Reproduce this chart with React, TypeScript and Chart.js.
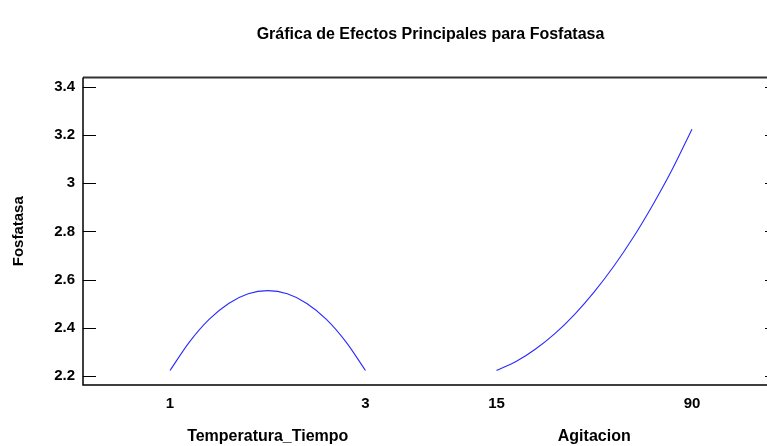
import React, { useEffect, useRef } from 'react';
import { Chart, registerables } from 'chart.js';

Chart.register(...registerables);

// ---- Data ----
const titleText = 'Gráfica de Efectos Principales para Fosfatasa';
const yAxisTitle = 'Fosfatasa';
const factorNames = ['Temperatura_Tiempo', 'Agitacion'];
const levelLabels = ['1', '3', '15', '90'];
const yTickValues = [2.2, 2.4, 2.6, 2.8, 3.0, 3.2, 3.4];

// position along each factor's span (0 = low level, 1 = high level)
const steps = [0, 0.1, 0.2, 0.3, 0.4, 0.5, 0.6, 0.7, 0.8, 0.9, 1.0];
const temperaturaValues = [2.224, 2.343, 2.436, 2.502, 2.542, 2.555, 2.542, 2.502, 2.436, 2.343, 2.224];
const agitacionValues = [2.224, 2.261, 2.313, 2.378, 2.457, 2.550, 2.656, 2.776, 2.911, 3.059, 3.224];

// ---- Layout constants ----
const FACTOR_STARTS = [0, 1.67];
const X_MIN = -0.445;
const X_MAX = 3.11;
const Y_MIN = 2.164;
const Y_MAX = 3.438;
const FONT = 'Liberation Sans, Arial, sans-serif';

const boxPlugin = {
  id: 'boxPlugin',
  afterDatasetsDraw(chart: any) {
    const { ctx, chartArea } = chart;
    const { left, right, top, bottom } = chartArea;
    const y = chart.scales.y;
    ctx.save();
    ctx.strokeStyle = '#333';
    ctx.lineWidth = 2;
    ctx.beginPath();
    ctx.moveTo(left, top);
    ctx.lineTo(right, top);
    ctx.stroke();
    ctx.strokeStyle = '#000';
    ctx.lineWidth = 1.5;
    ctx.beginPath();
    ctx.moveTo(left, top);
    ctx.lineTo(left, bottom);
    ctx.lineTo(right, bottom);
    ctx.lineTo(right, top);
    ctx.stroke();
    ctx.lineWidth = 1;
    ctx.beginPath();
    yTickValues.forEach((v) => {
      const py = Math.round(y.getPixelForValue(v)) + 0.5;
      ctx.moveTo(left, py);
      ctx.lineTo(left + 13, py);
      ctx.moveTo(right - 13, py);
      ctx.lineTo(right, py);
    });
    ctx.stroke();
    ctx.restore();
  },
};

export default function App() {
  const ref = useRef<HTMLCanvasElement | null>(null);

  useEffect(() => {
    if (!ref.current) return;
    const mk = (start: number, vals: number[]) =>
      steps.map((s, i) => ({ x: start + s, y: vals[i] }));
    const levelPositions = [
      FACTOR_STARTS[0], FACTOR_STARTS[0] + 1,
      FACTOR_STARTS[1], FACTOR_STARTS[1] + 1,
    ];
    const factorCenters = FACTOR_STARTS.map((s) => s + 0.5);
    const tickFont = { family: FONT, size: 15, weight: 'bold' as const };
    const nameFont = { family: FONT, size: 16, weight: 'bold' as const };

    const chart = new Chart(ref.current, {
      type: 'line',
      data: {
        datasets: [
          {
            data: mk(FACTOR_STARTS[0], temperaturaValues),
            borderColor: '#2a2aff',
            borderWidth: 1.1,
            pointRadius: 0,
            tension: 0.35,
            fill: false,
          },
          {
            data: mk(FACTOR_STARTS[1], agitacionValues),
            borderColor: '#2a2aff',
            borderWidth: 1.1,
            pointRadius: 0,
            tension: 0.35,
            fill: false,
          },
        ],
      },
      options: {
        animation: false,
        responsive: false,
        layout: { padding: { left: 0, right: 22, top: 0, bottom: 0 } },
        plugins: {
          legend: { display: false },
          tooltip: { enabled: false },
          title: {
            display: true,
            text: titleText,
            fullSize: false,
            color: '#000',
            font: nameFont,
            padding: { top: 25.4, bottom: 32.9 },
          },
        },
        scales: {
          x: {
            type: 'linear',
            position: 'bottom',
            weight: 0,
            min: X_MIN,
            max: X_MAX,
            grid: { display: false, drawTicks: false },
            border: { display: false },
            afterBuildTicks: (s: any) => {
              s.ticks = levelPositions.map((v) => ({ value: v }));
            },
            afterFit: (s: any) => {
              s.height = 30;
            },
            ticks: {
              autoSkip: false,
              maxRotation: 0,
              padding: 10,
              color: '#000',
              font: tickFont,
              callback: (_v: any, i: number) => levelLabels[i],
            },
          },
          x2: {
            type: 'linear',
            position: 'bottom',
            weight: 1,
            min: X_MIN,
            max: X_MAX,
            grid: { display: false, drawTicks: false },
            border: { display: false },
            afterBuildTicks: (s: any) => {
              s.ticks = factorCenters.map((v) => ({ value: v }));
            },
            afterFit: (s: any) => {
              s.height = 31;
            },
            ticks: {
              autoSkip: false,
              maxRotation: 0,
              padding: 12,
              color: '#000',
              font: nameFont,
              callback: (_v: any, i: number) => factorNames[i],
            },
          },
          y: {
            type: 'linear',
            min: Y_MIN,
            max: Y_MAX,
            grid: { display: false, drawTicks: false },
            border: { display: false },
            afterBuildTicks: (s: any) => {
              s.ticks = yTickValues.map((v) => ({ value: v }));
            },
            afterFit: (s: any) => {
              s.width = 83;
            },
            ticks: {
              autoSkip: false,
              padding: 8,
              color: '#000',
              font: tickFont,
              callback: (v: any) => String(Number(Number(v).toFixed(1))),
            },
            title: {
              display: true,
              text: yAxisTitle,
              color: '#000',
              font: tickFont,
              padding: { top: 10, bottom: 0 },
            },
          },
        },
      },
      plugins: [boxPlugin],
    });
    return () => chart.destroy();
  }, []);

  return (
    <div
      style={{
        position: 'fixed',
        left: 0,
        top: 0,
        width: 767,
        height: 446,
        overflow: 'hidden',
        background: '#fff',
      }}
    >
      <canvas ref={ref} width={800} height={446} style={{ width: 800, height: 446, display: 'block' }} />
    </div>
  );
}
